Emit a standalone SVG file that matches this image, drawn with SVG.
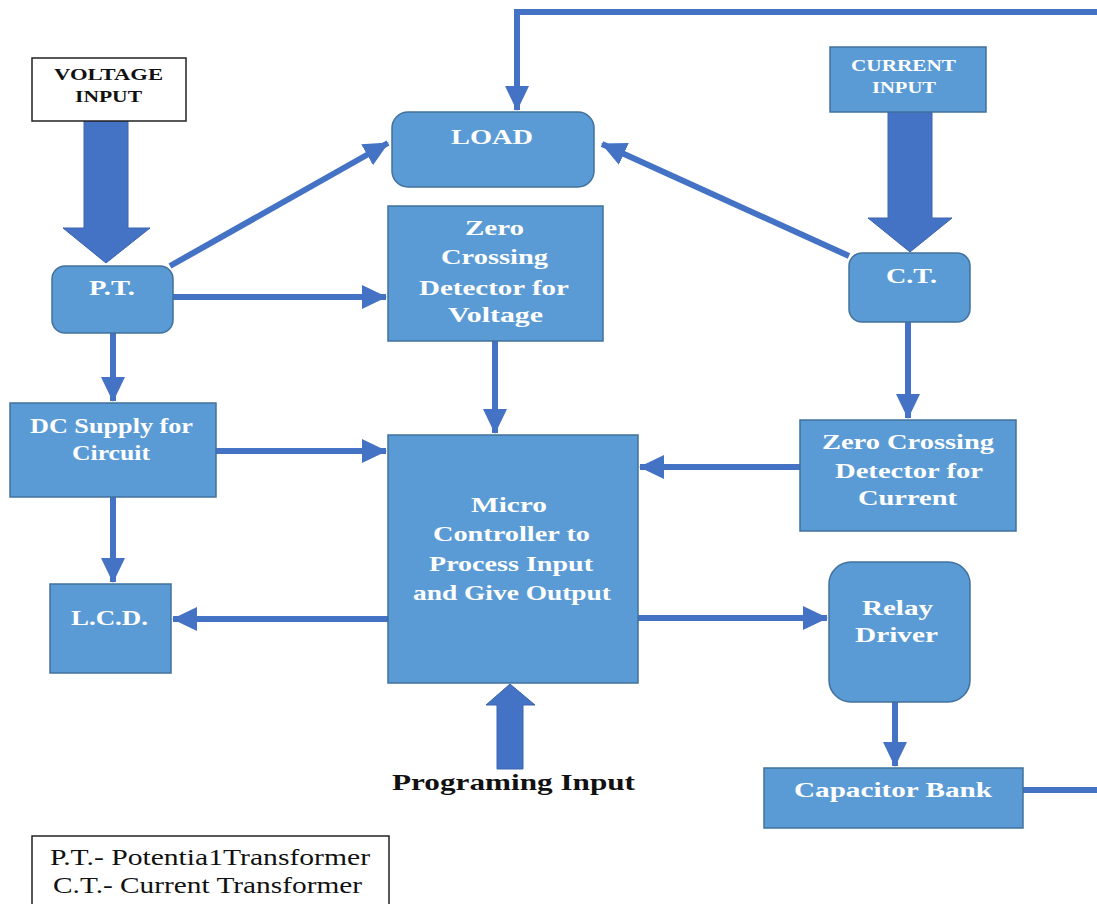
<svg xmlns="http://www.w3.org/2000/svg" width="1097" height="904" viewBox="0 0 1097 904">
<style>
.n{fill:#5b9bd5;stroke:#41719c;stroke-width:1.5}
text{font-family:"Liberation Serif","Times New Roman","DejaVu Serif",serif}
.t{font-weight:bold;font-size:21px;fill:#fff;text-anchor:middle}
.s{font-weight:bold;font-size:16px;text-anchor:middle}
.c{stroke:#4472c4;stroke-width:6;fill:none}
.big{fill:#4472c4;stroke:#3a64ad;stroke-width:1}
.lg{font-size:23px;fill:#111}
</style>
<defs>
<marker id="ah" markerUnits="userSpaceOnUse" markerWidth="26" markerHeight="26" viewBox="0 0 26 26" refX="24" refY="13" orient="auto">
<path d="M0,1 L25,13 L0,25 Z" fill="#4472c4"/>
</marker>
</defs>
<rect width="1097" height="904" fill="#fff"/>
<g id="connectors">
<path class="c" d="M1023,790 H1097"/>
<path class="c" d="M1097,12 H517 V110" marker-end="url(#ah)"/>
<path class="c" d="M170,266 L388,143" marker-end="url(#ah)"/>
<path class="c" d="M173,297 H386" marker-end="url(#ah)"/>
<path class="c" d="M113,333 V401" marker-end="url(#ah)"/>
<path class="c" d="M849,256 L602,144" marker-end="url(#ah)"/>
<path class="c" d="M908,322 V418" marker-end="url(#ah)"/>
<path class="c" d="M495,341 V433" marker-end="url(#ah)"/>
<path class="c" d="M216,451 H386" marker-end="url(#ah)"/>
<path class="c" d="M800,467 H640" marker-end="url(#ah)"/>
<path class="c" d="M388,619 H173" marker-end="url(#ah)"/>
<path class="c" d="M638,618 H827" marker-end="url(#ah)"/>
<path class="c" d="M895,702 V766" marker-end="url(#ah)"/>
<path class="c" d="M113,497 V582" marker-end="url(#ah)"/>
<path class="big" d="M84,121 H128 V228 H150 L106,263 L63,228 H84 Z"/>
<path class="big" d="M888,112 H932 V218 H952 L910,252 L868,218 H888 Z"/>
<path class="big" d="M497,769 H523 V705 H535 L510,684 L486,705 H497 Z"/>
</g>
<g id="voltage-input">
<rect x="32" y="58" width="154" height="63" fill="#fff" stroke="#222" stroke-width="1.5"/>
<text class="s" x="108.5" y="80" fill="#111" textLength="109" lengthAdjust="spacingAndGlyphs">VOLTAGE</text>
<text class="s" x="108.5" y="102" fill="#111" textLength="67" lengthAdjust="spacingAndGlyphs">INPUT</text>
</g>
<g id="current-input">
<rect class="n" x="830" y="47" width="156" height="65"/>
<text class="s" x="903.5" y="71" fill="#fff" textLength="105" lengthAdjust="spacingAndGlyphs">CURRENT</text>
<text class="s" x="904" y="93" fill="#fff" textLength="64" lengthAdjust="spacingAndGlyphs">INPUT</text>
</g>
<g id="pt">
<rect class="n" x="52" y="266" width="121" height="67" rx="13"/>
<text class="t" x="112" y="295" textLength="46" lengthAdjust="spacingAndGlyphs">P.T.</text>
</g>
<g id="load">
<rect class="n" x="392" y="112" width="202" height="75" rx="16"/>
<text class="t" x="492" y="144" textLength="82" lengthAdjust="spacingAndGlyphs">LOAD</text>
</g>
<g id="zcd-voltage">
<rect class="n" x="388" y="206" width="215" height="135"/>
<text class="t" x="494.5" y="235" textLength="59" lengthAdjust="spacingAndGlyphs">Zero</text>
<text class="t" x="494.5" y="264" textLength="107" lengthAdjust="spacingAndGlyphs">Crossing</text>
<text class="t" x="494" y="295" textLength="150" lengthAdjust="spacingAndGlyphs">Detector for</text>
<text class="t" x="495.5" y="322" textLength="95" lengthAdjust="spacingAndGlyphs">Voltage</text>
</g>
<g id="ct">
<rect class="n" x="849" y="253" width="121" height="69" rx="13"/>
<text class="t" x="911.5" y="283" textLength="51" lengthAdjust="spacingAndGlyphs">C.T.</text>
</g>
<g id="dc-supply">
<rect class="n" x="10" y="403" width="206" height="94"/>
<text class="t" x="111.5" y="433" textLength="163" lengthAdjust="spacingAndGlyphs">DC Supply for</text>
<text class="t" x="111" y="460" textLength="78" lengthAdjust="spacingAndGlyphs">Circuit</text>
</g>
<g id="zcd-current">
<rect class="n" x="800" y="420" width="216" height="111"/>
<text class="t" x="908" y="449" textLength="172" lengthAdjust="spacingAndGlyphs">Zero Crossing</text>
<text class="t" x="909" y="478" textLength="148" lengthAdjust="spacingAndGlyphs">Detector for</text>
<text class="t" x="907.5" y="505" textLength="99" lengthAdjust="spacingAndGlyphs">Current</text>
</g>
<g id="micro">
<rect class="n" x="388" y="435" width="250" height="248"/>
<text class="t" x="509" y="512" textLength="76" lengthAdjust="spacingAndGlyphs">Micro</text>
<text class="t" x="511.5" y="541" textLength="157" lengthAdjust="spacingAndGlyphs">Controller to</text>
<text class="t" x="511" y="571" textLength="164" lengthAdjust="spacingAndGlyphs">Process Input</text>
<text class="t" x="512" y="600" textLength="198" lengthAdjust="spacingAndGlyphs">and Give Output</text>
</g>
<g id="lcd">
<rect class="n" x="50" y="584" width="121" height="89"/>
<text class="t" x="109.5" y="625" textLength="77" lengthAdjust="spacingAndGlyphs">L.C.D.</text>
</g>
<g id="relay">
<rect class="n" x="829" y="562" width="141" height="140" rx="22"/>
<text class="t" x="897.5" y="615" textLength="71" lengthAdjust="spacingAndGlyphs">Relay</text>
<text class="t" x="896.5" y="642" textLength="83" lengthAdjust="spacingAndGlyphs">Driver</text>
</g>
<g id="capacitor">
<rect class="n" x="764" y="768" width="259" height="60"/>
<text class="t" x="893" y="797" textLength="198" lengthAdjust="spacingAndGlyphs">Capacitor Bank</text>
</g>
<g id="programming-input">
<text x="513.5" y="790" font-weight="bold" font-size="24" fill="#111" text-anchor="middle" textLength="243" lengthAdjust="spacingAndGlyphs">Programing  Input</text>
</g>
<g id="legend">
<rect x="32" y="836" width="357" height="80" fill="#fff" stroke="#222" stroke-width="1.5"/>
<text class="lg" x="50" y="865" textLength="320" lengthAdjust="spacingAndGlyphs">P.T.- Potentia1Transformer</text>
<text class="lg" x="53" y="893" textLength="309" lengthAdjust="spacingAndGlyphs">C.T.- Current Transformer</text>
</g>
</svg>
